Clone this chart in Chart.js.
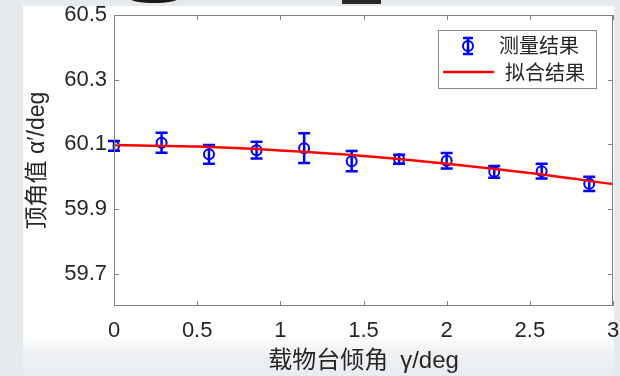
<!DOCTYPE html>
<html>
<head>
<meta charset="utf-8">
<script src="https://cdn.jsdelivr.net/npm/chart.js@4.4.1/dist/chart.umd.min.js"></script>
<style>
  html, body { margin: 0; padding: 0; }
  body {
    width: 620px; height: 376px; overflow: hidden; position: relative;
    background: #e6eaed;
  }
  #fig {
    position: absolute; left: 23px; top: 6px; width: 591px; height: 370px;
    background: linear-gradient(to bottom, #ffffff 0px, #ffffff 328px, #f0f2f4 345px, #e9ecef 370px);
  }
  .blob { position: absolute; background: #1a1a1a; }
  #wrap { position: absolute; left: 0; top: 0; width: 620px; height: 376px; }
</style>
</head>
<body>
<div id="fig"></div>
<div class="blob" style="left:130px;top:-6px;width:48px;height:9px;border-radius:50%;"></div>
<div class="blob" style="left:342px;top:0;width:39px;height:4px;background:#2a2a2a;"></div>
<div id="wrap"><canvas id="chart" width="620" height="376"></canvas></div>
<script>
// measured tilt angle (deg) vs apex angle (deg)
const gamma = [0, 0.286, 0.571, 0.857, 1.143, 1.429, 1.714, 2.0, 2.286, 2.571, 2.857];
const alpha = [60.095, 60.105, 60.069, 60.082, 60.088, 60.048, 60.054, 60.049, 60.015, 60.017, 59.978];
const alphaErr = [0.015, 0.031, 0.029, 0.026, 0.046, 0.031, 0.014, 0.024, 0.018, 0.023, 0.022];

// fitted curve
const fitX = [0, 0.5, 1, 1.5, 2, 2.5, 3];
const fitY = [60.098, 60.093, 60.081, 60.064, 60.040, 60.011, 59.977];

const xTicks = [0, 0.5, 1, 1.5, 2, 2.5, 3];
const yTicks = [59.7, 59.9, 60.1, 60.3, 60.5];

const legendLabels = ['测量结果', '拟合结果'];
const xTitle = '载物台倾角\u2002γ/deg';
const yTitle = '顶角值 α′/deg';

const BLUE = '#0000ff';
const RED = '#ff0000';
const TXT = '#262626';
const FONT = '"Liberation Sans", "Noto Sans CJK SC", sans-serif';

function drawMarker(ctx, x, y) {
  ctx.beginPath();
  ctx.arc(x, y, 5, 0, Math.PI * 2);
  ctx.stroke();
}

const errorBars = {
  id: 'errorBars',
  beforeDatasetsDraw(chart) {
    const ctx = chart.ctx;
    const xs = chart.scales.x, ys = chart.scales.y;
    ctx.save();
    ctx.strokeStyle = BLUE;
    ctx.lineWidth = 2.5;
    gamma.forEach((g, i) => {
      const px = xs.getPixelForValue(g);
      const top = ys.getPixelForValue(alpha[i] + alphaErr[i]);
      const bot = ys.getPixelForValue(alpha[i] - alphaErr[i]);
      ctx.beginPath();
      ctx.moveTo(px, top); ctx.lineTo(px, bot);
      ctx.moveTo(px - 6, top); ctx.lineTo(px + 6, top);
      ctx.moveTo(px - 6, bot); ctx.lineTo(px + 6, bot);
      ctx.stroke();
    });
    ctx.restore();
  }
};

// matlab style box with inward ticks, plus the legend
const boxAndLegend = {
  id: 'boxAndLegend',
  afterDraw(chart) {
    const ctx = chart.ctx;
    const a = chart.chartArea;
    const xs = chart.scales.x, ys = chart.scales.y;
    ctx.save();
    ctx.strokeStyle = '#808080';
    ctx.lineWidth = 1;
    ctx.strokeRect(a.left + 0.5, a.top + 0.5, a.right - a.left - 1, a.bottom - a.top - 1);
    ctx.beginPath();
    xTicks.forEach(t => {
      const px = Math.round(xs.getPixelForValue(t)) + 0.5;
      ctx.moveTo(px, a.bottom); ctx.lineTo(px, a.bottom - 5);
      ctx.moveTo(px, a.top); ctx.lineTo(px, a.top + 5);
    });
    yTicks.forEach(t => {
      const py = Math.round(ys.getPixelForValue(t)) + 0.5;
      ctx.moveTo(a.left, py); ctx.lineTo(a.left + 5, py);
      ctx.moveTo(a.right, py); ctx.lineTo(a.right - 5, py);
    });
    ctx.stroke();

    // legend box
    const lx = 438, ly = 30, lw = 158, lh = 58;
    ctx.fillStyle = '#ffffff';
    ctx.fillRect(lx, ly, lw, lh);
    ctx.strokeStyle = '#8a8a8a';
    ctx.strokeRect(lx + 0.5, ly + 0.5, lw, lh);

    ctx.strokeStyle = BLUE;
    ctx.lineWidth = 2.5;
    const mx = 468, my = 46;
    ctx.beginPath();
    ctx.moveTo(mx, my - 8); ctx.lineTo(mx, my + 8);
    ctx.moveTo(mx - 5, my - 8); ctx.lineTo(mx + 5, my - 8);
    ctx.moveTo(mx - 5, my + 8); ctx.lineTo(mx + 5, my + 8);
    ctx.stroke();
    ctx.lineWidth = 2;
    drawMarker(ctx, mx, my);

    ctx.strokeStyle = RED;
    ctx.lineWidth = 2.5;
    ctx.beginPath();
    ctx.moveTo(443, 72); ctx.lineTo(494, 72);
    ctx.stroke();

    ctx.fillStyle = TXT;
    ctx.font = '20px ' + FONT;
    ctx.textBaseline = 'middle';
    ctx.textAlign = 'left';
    ctx.fillText(legendLabels[0], 499, 47);
    ctx.fillText(legendLabels[1], 505, 74);
    ctx.restore();
  }
};

const ctx = document.getElementById('chart').getContext('2d');
new Chart(ctx, {
  type: 'scatter',
  data: {
    datasets: [
      {
        label: legendLabels[1],
        data: fitX.map((x, i) => ({ x: x, y: fitY[i] })),
        showLine: true,
        borderColor: RED,
        borderWidth: 2.5,
        pointRadius: 0,
        cubicInterpolationMode: 'monotone',
        order: 0
      },
      {
        label: legendLabels[0],
        data: gamma.map((g, i) => ({ x: g, y: alpha[i] })),
        showLine: false,
        pointStyle: 'circle',
        pointRadius: 5,
        borderColor: BLUE,
        borderWidth: 2,
        backgroundColor: 'rgba(0,0,0,0)',
        order: 1
      }
    ]
  },
  options: {
    responsive: false,
    animation: false,
    layout: { padding: { top: 15, right: 7, left: 0, bottom: 0 } },
    plugins: {
      legend: { display: false },
      tooltip: { enabled: false }
    },
    scales: {
      x: {
        type: 'linear',
        min: 0, max: 3,
        afterFit: s => { s.height = 70; s.paddingLeft = 0; s.paddingRight = 0; },
        afterBuildTicks: s => { s.ticks = xTicks.map(v => ({ value: v })); },
        grid: { display: false, drawTicks: false },
        border: { display: false },
        ticks: {
          color: TXT, padding: 12,
          font: { family: FONT, size: 22 },
          maxRotation: 0,
          callback: v => String(v)
        },
        title: {
          display: true, text: xTitle, color: TXT,
          font: { family: FONT, size: 24 },
          padding: { top: 0, bottom: 0 }
        }
      },
      y: {
        type: 'linear',
        min: 59.6, max: 60.5,
        afterFit: s => { s.width = 114; s.paddingTop = 0; s.paddingBottom = 0; },
        afterBuildTicks: s => { s.ticks = yTicks.map(v => ({ value: v })); },
        grid: { display: false, drawTicks: false },
        border: { display: false },
        ticks: {
          color: TXT, padding: 7,
          font: { family: FONT, size: 22 },
          callback: v => Number(v).toFixed(1)
        },
        title: {
          display: true, text: yTitle, color: TXT,
          font: { family: FONT, size: 23 },
          padding: { top: 24, bottom: 0 }
        }
      }
    }
  },
  plugins: [errorBars, boxAndLegend]
});
</script>
</body>
</html>
